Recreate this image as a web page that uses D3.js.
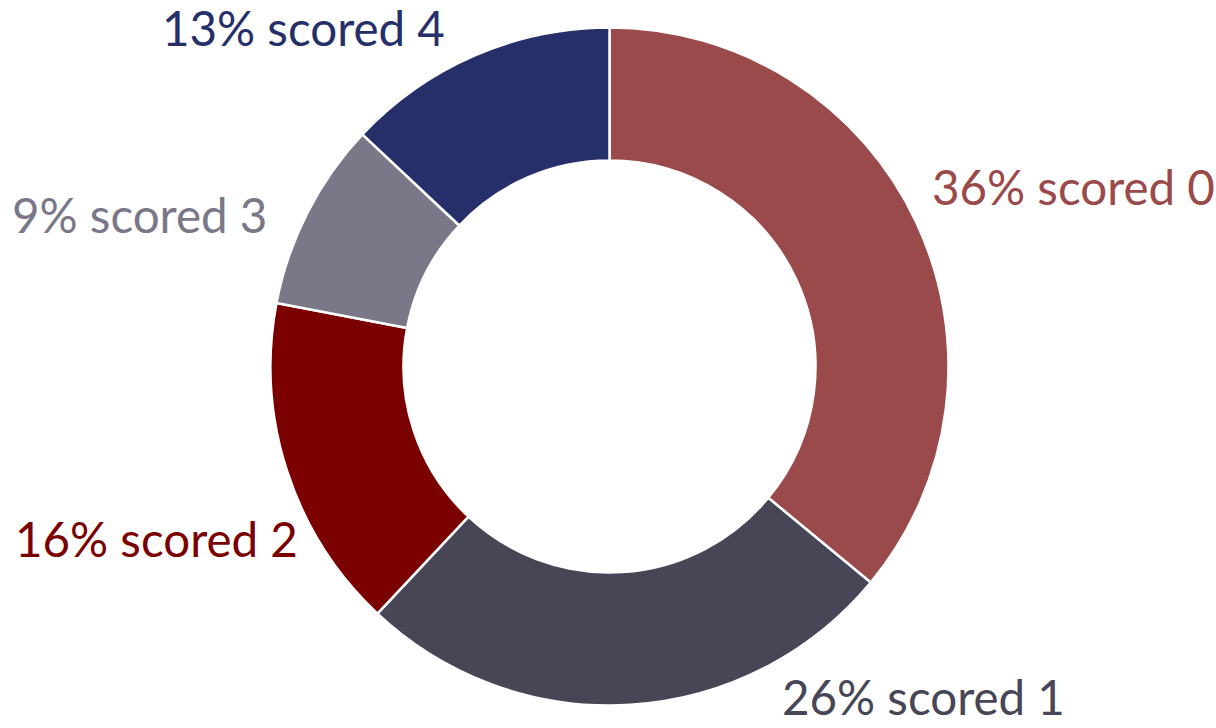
<!DOCTYPE html>
<html>
<head>
<meta charset="utf-8">
<script src="https://cdn.jsdelivr.net/npm/d3@7"></script>
<style>
  html, body { margin: 0; padding: 0; background: #fff; }
  svg { display: block; }
</style>
</head>
<body>
<div id="chart"></div>
<script>
// данные
var scores = ['0', '1', '2', '3', '4'];
var shares = [36, 26, 16, 9, 13];
var colors = ['#9b4a4b', '#474657', '#7b0000', '#7a7788', '#262f69'];

// положение подписей (левый край, базовая линия)
var labelPos = [[932, 205], [782, 715], [15, 557], [12, 233], [162, 46]];

var svgWidth = 1216, svgHeight = 728;
var cx = 609.5, cy = 366.5;
var outerR = 339, innerR = 206;

var svg = d3.select('#chart')
	.append('svg')
	.attr('width', svgWidth)
	.attr('height', svgHeight);

var data = scores.map(function(s, i) {
	return { score: s, value: shares[i], color: colors[i], pos: labelPos[i] };
});

var pie = d3.pie()
	.sort(null)
	.value(function(d) { return d.value; });

var arc = d3.arc()
	.outerRadius(outerR)
	.innerRadius(innerR);

var g = svg.append('g')
	.attr('transform', 'translate(' + cx + ',' + cy + ')');

g.selectAll('path')
	.data(pie(data))
	.enter()
	.append('path')
	.attr('d', arc)
	.style('fill', function(d) { return d.data.color; })
	.style('stroke', '#fff')
	.style('stroke-width', 2.5)
	.style('stroke-linejoin', 'round');

// подписи
var labels = svg.selectAll('text.lbl')
	.data(data)
	.enter()
	.append('text')
	.attr('class', 'lbl')
	.attr('x', function(d) { return d.pos[0]; })
	.attr('y', function(d) { return d.pos[1]; })
	.style('font-family', 'Lato, "Open Sans", sans-serif')
	.style('font-size', '50px')
	.style('fill', function(d) { return d.color; })
	.text(function(d) { return d.value + '% scored ' + d.score; });

// подгоняем размер шрифта под ширину подписи в оригинале (~283px для "36% scored 0")
var w = labels.filter(function(d, i) { return i === 0; }).node().getComputedTextLength();
var fs = 50 * 283 / w;
labels.style('font-size', fs + 'px');
</script>
</body>
</html>
